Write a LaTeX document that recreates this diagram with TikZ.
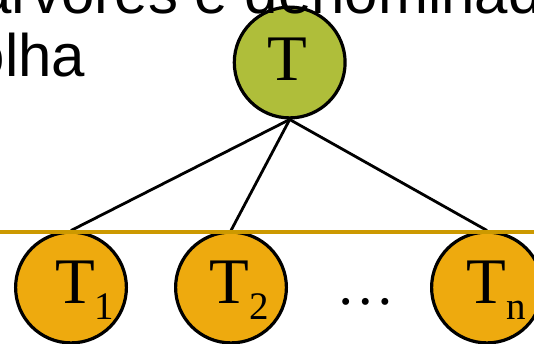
\documentclass[tikz,border=0pt]{standalone}
\usepackage{fontspec}
\newfontfamily\sansf{Liberation Sans}
\newfontfamily\seriff{Liberation Serif}
\definecolor{rootgreen}{RGB}{175,190,58}
\definecolor{kidorange}{RGB}{238,170,14}
\definecolor{rulegold}{RGB}{204,153,0}
\begin{document}
\begin{tikzpicture}[x=1pt,y=-1pt,
  treenode/.style={circle,draw=black,line width=3.2pt,minimum size=110.8pt,inner sep=0pt},
  rootnode/.style={treenode,fill=rootgreen},
  kidnode/.style={treenode,fill=kidorange},
  lab/.style={anchor=base west,inner sep=0pt,font=\seriff\fontsize{65}{65}\selectfont},
  bodytext/.style={anchor=base west,inner sep=0pt,font=\sansf\fontsize{60}{60}\selectfont},
  dotstext/.style={anchor=base west,inner sep=0pt,font=\seriff\fontsize{58.5}{58.5}\selectfont},
  linkline/.style={line width=2.8pt,black},
  rulestyle/.style={line width=4pt,rulegold}]
\useasboundingbox (0,0) rectangle (534,343);
\clip (0,0) rectangle (534,343);
\node[rootnode] (root) at (289.7,62.5) {};
\node[kidnode] (k1) at (71,287.5) {};
\node[kidnode] (k2) at (231,287.5) {};
\node[kidnode] (kn) at (487,287.5) {};
\node[bodytext] (line1) at (-22.1,13.5) {árvores é denominada};
\node[bodytext] (line2) at (-45,76.5) {folha};
\node[lab] (rootlab) at (267.2,80) {T};
\node[lab] (k1lab) at (55,303.3) {T\raisebox{-16pt}{\fontsize{39}{39}\selectfont 1}};
\node[lab] (k2lab) at (209.6,303.3) {T\raisebox{-16pt}{\fontsize{39}{39}\selectfont 2}};
\node[lab] (knlab) at (466.2,303.3) {T\raisebox{-16pt}{\fontsize{39}{39}\selectfont n}};
\node[dotstext] (dots) at (336,304) {…};
\draw[linkline] (root.south) -- (k1.north);
\draw[linkline] (root.south) -- (k2.north);
\draw[linkline] (root.south) -- (kn.north);
\coordinate (ruleleft) at (0,232.4);
\coordinate (ruleright) at (534,232.4);
\draw[rulestyle] (ruleleft) -- (ruleright);
\end{tikzpicture}
\end{document}
